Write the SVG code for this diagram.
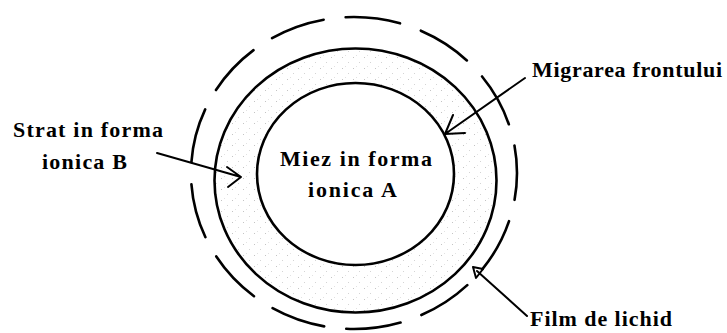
<svg xmlns="http://www.w3.org/2000/svg" width="727" height="333" viewBox="0 0 727 333">
<style>
.ln{fill:none;stroke:#000;stroke-width:2.6;stroke-linecap:round;stroke-linejoin:round}
.th{fill:none;stroke:#000;stroke-width:2;stroke-linecap:round;stroke-linejoin:round}
.lbl{font-family:"Liberation Serif","Times New Roman",serif;font-size:22px;font-weight:bold;fill:#000}
</style>
<defs>
<pattern id="dots" width="11" height="11" patternUnits="userSpaceOnUse">
<rect x="1" y="2" width="1" height="1" fill="#c4c4c4"/>
<rect x="7" y="7" width="1" height="1" fill="#d4d4d4"/>
<rect x="4" y="0" width="1" height="1" fill="#e2e2e2"/>
</pattern>
</defs>
<rect width="727" height="333" fill="#fff"/>
<g id="film">
<ellipse cx="354" cy="173" rx="163" ry="156" class="ln" stroke-dasharray="55 22.1" stroke-dashoffset="28"/>
</g>
<g id="strat">
<path d="M214.5,180.5 a141,132 0 1,0 282,0 a141,132 0 1,0 -282,0 Z M257,174 a98.5,91 0 1,0 197,0 a98.5,91 0 1,0 -197,0 Z" fill="url(#dots)" fill-rule="evenodd" stroke="none"/>
<ellipse cx="355.5" cy="180.5" rx="141" ry="132" class="ln"/>
</g>
<g id="miez">
<ellipse cx="355.5" cy="174" rx="98.5" ry="91" class="ln"/>
<text class="lbl" x="280" y="166" textLength="152">Miez in forma</text>
<text class="lbl" x="308" y="197" textLength="89">ionica A</text>
</g>
<g id="label-strat">
<text class="lbl" x="13" y="137" textLength="150">Strat in forma</text>
<text class="lbl" x="42" y="169" textLength="85">ionica B</text>
</g>
<g id="label-migrarea">
<text class="lbl" x="532" y="77" textLength="190">Migrarea frontului</text>
</g>
<g id="label-film">
<text class="lbl" x="530" y="326" textLength="142">Film de lichid</text>
</g>
<g id="connectors">
<path class="th" d="M157,153 L241,177 M227,167 L241,177 L228,187"/>
<path class="th" d="M525,78 L445,134 M453,115 L445,134 L465,133"/>
<path class="th" d="M527,316 L477,271 M473,267 L483,269 L476,278 Z"/>
</g>
</svg>
